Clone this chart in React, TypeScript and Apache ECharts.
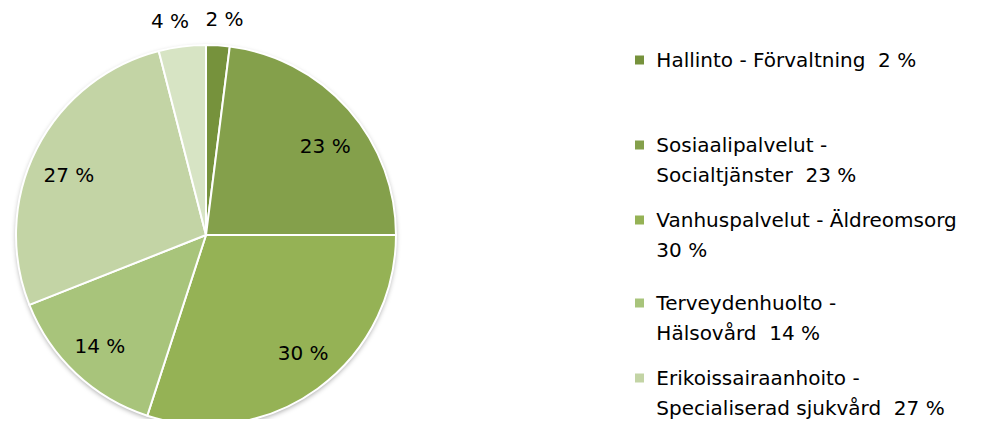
import React, { useEffect, useRef } from "react";
import * as echarts from "echarts";

const names = [
  "Hallinto - Förvaltning",
  "Sosiaalipalvelut - Socialtjänster",
  "Vanhuspalvelut - Äldreomsorg",
  "Terveydenhuolto - Hälsovård",
  "Erikoissairaanhoito - Specialiserad sjukvård",
  "Muut - Övrigt",
];
const values = [2, 23, 30, 14, 27, 4];
const legendLines = [
  ["Hallinto - Förvaltning  2 %"],
  ["Sosiaalipalvelut -", "Socialtjänster  23 %"],
  ["Vanhuspalvelut - Äldreomsorg", "30 %"],
  ["Terveydenhuolto -", "Hälsovård  14 %"],
  ["Erikoissairaanhoito -", "Specialiserad sjukvård  27 %"],
];
const colors = ["#76923C", "#84A04B", "#95B255", "#A8C47B", "#C3D4A5", "#D7E4C4"];
const outsideIdx = [0, 5];

const FONT = "'DejaVu Sans', sans-serif";

// small nudges of label placement (pixels) to mimic the original layout
const labelNudge: Record<number, { dx: number; dy: number }> = {
  1: { dx: 3, dy: 14 },
  2: { dx: 6, dy: -7 },
  3: { dx: 0, dy: -2 },
  4: { dx: 1, dy: 10 },
  5: { dx: -4, dy: 0 },
};

export default function App() {
  const ref = useRef<HTMLDivElement>(null);
  useEffect(() => {
    if (!ref.current) return;
    const chart = echarts.init(ref.current, null, { renderer: "svg" });
    const center = [206, 235];
    const R = 190;
    const LH = 30;
    const total = values.reduce((a, b) => a + b, 0);
    const firstLineY = [60, 145, 220, 303, 378];
    const legends = legendLines.map((lines, i) => {
      const text =
        lines.length === 1
          ? " " + lines[0]
          : [" ", ...lines].map((l) => " " + l).join("\n");
      const half = lines.length === 1 ? LH / 2 : (LH * 3) / 2;
      return {
        data: [names[i]],
        left: 633,
        top: firstLineY[i] - half,
        padding: 0,
        icon: "rect",
        itemWidth: 11,
        itemHeight: 11,
        itemGap: 0,
        selectedMode: false,
        formatter: () => text,
        textStyle: {
          fontFamily: FONT,
          fontSize: 20,
          color: "#000",
          lineHeight: LH,
        },
      };
    });
    chart.setOption({
      animation: false,
      backgroundColor: "#fff",
      color: colors,
      legend: legends,
      series: [
        {
          type: "pie",
          silent: true,
          center,
          radius: R,
          label: { show: false },
          labelLine: { show: false },
          itemStyle: {
            color: "#fff",
            shadowBlur: 5,
            shadowOffsetY: 2,
            shadowColor: "rgba(0,0,0,0.35)",
          },
          data: [{ name: "_base", value: total }],
          legendHoverLink: false,
        },
        {
          type: "pie",
          name: "main",
          center,
          radius: R,
          startAngle: 90,
          clockwise: true,
          label: { show: false },
          labelLine: { show: false },
          itemStyle: { borderColor: "#fff", borderWidth: 2 },
          data: names.map((n, i) => ({ name: n, value: values[i] })),
        },
        {
          type: "pie",
          name: "labels",
          silent: true,
          center,
          radius: [R * 0.6, R],
          startAngle: 90,
          clockwise: true,
          itemStyle: { color: "rgba(0,0,0,0)" },
          label: {
            show: true,
            position: "inside",
            formatter: (p: any) => `${p.value} %`,
            fontFamily: FONT,
            fontSize: 20,
            color: "#000",
          },
          labelLine: { show: false, length: 26, length2: 0 },
          labelLayout: (p: any) => {
            const n = labelNudge[p.dataIndex] || { dx: 0, dy: 0 };
            return outsideIdx.includes(p.dataIndex)
              ? { align: "center", dx: n.dx, dy: n.dy }
              : { dx: n.dx, dy: n.dy };
          },
          data: names.map((n, i) => ({
            name: n,
            value: values[i],
            label: outsideIdx.includes(i) ? { position: "outside" } : undefined,
            labelLine: outsideIdx.includes(i) ? { show: false } : undefined,
          })),
        },
      ],
    });
    return () => chart.dispose();
  }, []);
  return <div ref={ref} style={{ width: 1000, height: 427, margin: -8 }} />;
}
